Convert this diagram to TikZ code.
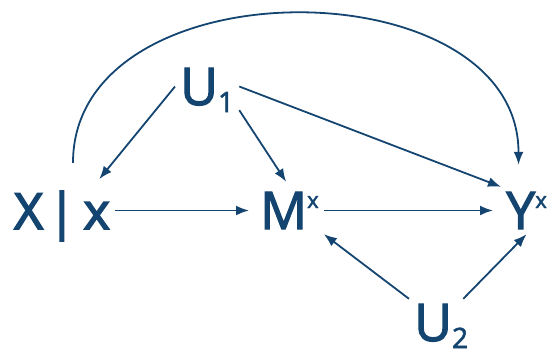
\documentclass[tikz,border=0pt]{standalone}
\usepackage{fontspec}
\setmainfont{Open Sans}
\newfontfamily\semibold[FakeBold=2.2]{Open Sans}
\newfontfamily\heavier[FakeBold=3.2]{Open Sans}
\usetikzlibrary{arrows.meta, positioning}
\definecolor{navy}{RGB}{20,68,112}
\newcommand{\supx}[1]{\raisebox{21pt}{\fontsize{22}{22}\selectfont #1}}
\newcommand{\subn}[1]{\raisebox{-7pt}{\fontsize{28}{28}\selectfont #1}}

\begin{document}
\begin{tikzpicture}[x=1pt, y=-1pt, >={Latex[length=13pt,width=10pt]},
    var/.style={text=navy, font=\semibold\fontsize{52}{60}\selectfont, inner sep=5pt,
      text height=37pt, text depth=0pt, anchor=base west},
    edge/.style={->, draw=navy, line width=1.8pt}]
    \useasboundingbox (0,0) rectangle (558,354);

    % 1. Các biến
    \node[var, font=\heavier\fontsize{50}{60}\selectfont] (x) at (9,229) {X\hspace{5pt}|\hspace{8pt}x};
    \node[var] (u1) at (175,105) {U\subn{1}};
    \node[var] (m) at (255,229) {M\supx{x}};
    \node[var] (y) at (501,229) {Y\supx{x}};
    \node[var] (u2) at (409,341) {U\subn{2}};

    % 2. Các cung
    \draw[edge, shorten >=10pt] (u1.west) -- ([xshift=-22pt]x.north east);
    \draw[edge, shorten >=6pt] (u1.south east) -- (m.north);
    \draw[edge] (u1.east) -- (y.north west);
    \draw[edge, shorten >=6pt] (x) -- (m);
    \draw[edge, shorten >=8pt] (m) -- (y);
    \draw[edge] (u2.north west) -- (m.south east);
    \draw[edge] ([xshift=-10pt]u2.north east) -- (y.south);

    % 3. Cung cong từ X tới Y
    \draw[edge] ([shift={(11,-24)}]x.north) .. controls +(0,-200) and +(0,-200) .. ([shift={(-8,-22)}]y.north);
\end{tikzpicture}
\end{document}
